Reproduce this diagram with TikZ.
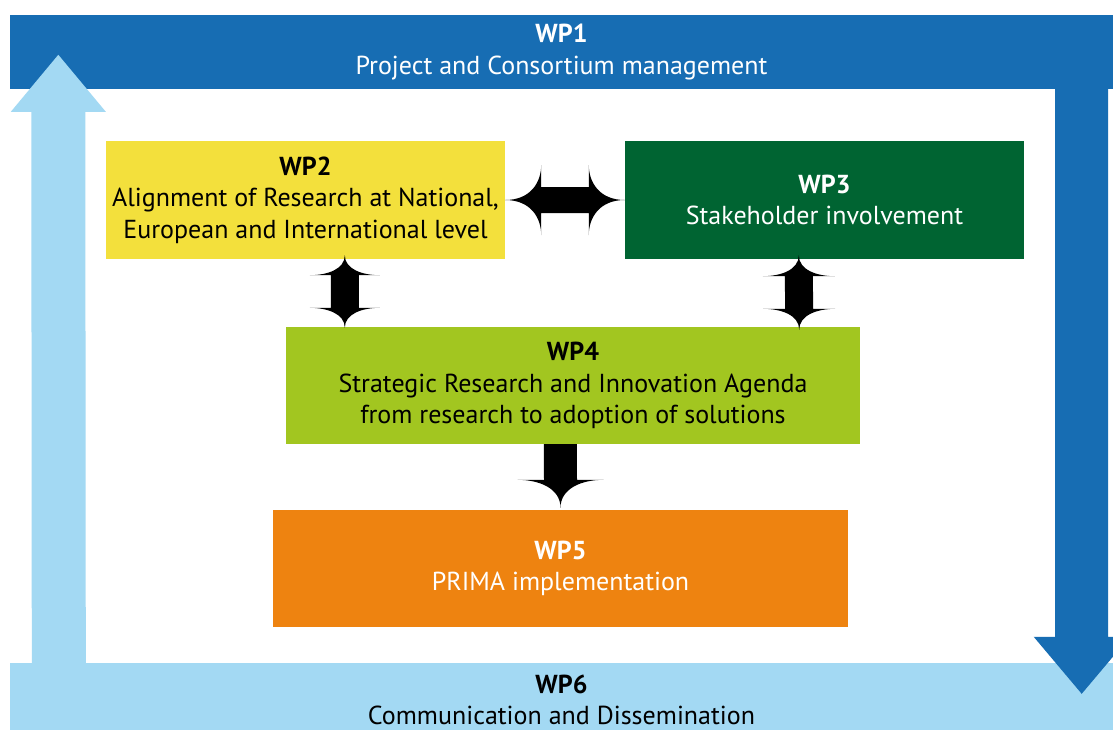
\documentclass[tikz,border=0pt]{standalone}
\usepackage{fontspec}
\setmainfont{PT Sans}
\usetikzlibrary{calc}
\definecolor{wpdark}{RGB}{23,109,179}
\definecolor{wplight}{RGB}{163,217,243}
\definecolor{wpyellow}{RGB}{243,224,60}
\definecolor{wpgreen}{RGB}{0,100,50}
\definecolor{wplime}{RGB}{162,198,32}
\definecolor{wporange}{RGB}{238,131,16}
\tikzset{
  wpbox/.style={rectangle, inner sep=0pt, align=center, font=\fontsize{26}{31.5}\selectfont},
  blockarrow/.style={fill=black},
}
% vertical double block arrow: #1 top tip, #2 bottom tip, #3 shaft half, #4 head half, #5 head length
\newcommand\wpvdarrow[5]{%
  \fill[blockarrow] (#1) .. controls ($(#1)+(0,0.7*#5)$) and ($(#1)+(-0.5*#4,#5)$) .. ($(#1)+(-#4,#5)$)
    -- ($(#1)+(-#3,#5)$) -- ($(#2)+(-#3,-#5)$) -- ($(#2)+(-#4,-#5)$)
    .. controls ($(#2)+(-0.5*#4,-#5)$) and ($(#2)+(0,-0.7*#5)$) .. (#2)
    .. controls ($(#2)+(0,-0.7*#5)$) and ($(#2)+(0.5*#4,-#5)$) .. ($(#2)+(#4,-#5)$)
    -- ($(#2)+(#3,-#5)$) -- ($(#1)+(#3,#5)$) -- ($(#1)+(#4,#5)$)
    .. controls ($(#1)+(0.5*#4,#5)$) and ($(#1)+(0,0.7*#5)$) .. cycle;}
% horizontal double block arrow: #1 left tip, #2 right tip
\newcommand\wphdarrow[5]{%
  \fill[blockarrow] (#1) .. controls ($(#1)+(0.7*#5,0)$) and ($(#1)+(#5,-0.5*#4)$) .. ($(#1)+(#5,-#4)$)
    -- ($(#1)+(#5,-#3)$) -- ($(#2)+(-#5,-#3)$) -- ($(#2)+(-#5,-#4)$)
    .. controls ($(#2)+(-#5,-0.5*#4)$) and ($(#2)+(-0.7*#5,0)$) .. (#2)
    .. controls ($(#2)+(-0.7*#5,0)$) and ($(#2)+(-#5,0.5*#4)$) .. ($(#2)+(-#5,#4)$)
    -- ($(#2)+(-#5,#3)$) -- ($(#1)+(#5,#3)$) -- ($(#1)+(#5,#4)$)
    .. controls ($(#1)+(#5,0.5*#4)$) and ($(#1)+(0.7*#5,0)$) .. cycle;}
% single downward block arrow: #1 top (flat), #2 tip
\newcommand\wpsdarrow[5]{%
  \fill[blockarrow] ($(#1)+(-#3,0)$) -- ($(#2)+(-#3,-#5)$) -- ($(#2)+(-#4,-#5)$)
    .. controls ($(#2)+(-0.5*#4,-#5)$) and ($(#2)+(0,-0.7*#5)$) .. (#2)
    .. controls ($(#2)+(0,-0.7*#5)$) and ($(#2)+(0.5*#4,-#5)$) .. ($(#2)+(#4,-#5)$)
    -- ($(#2)+(#3,-#5)$) -- ($(#1)+(#3,0)$) -- cycle;}
\begin{document}
\begin{tikzpicture}[x=1pt,y=-1pt]
\useasboundingbox (0,0) rectangle (1113,729);
\fill[white] (0,0) rectangle (1113,729);
\clip (0,0) rectangle (1113,729);

% bars
\node[wpbox, fill=wplight, text=black, minimum width=1103pt, minimum height=74pt] (wp6) at (561.5,700)
  {\textbf{WP6}\\Communication and Dissemination};
\node[wpbox, fill=wpdark, text=white, minimum width=1103pt, minimum height=74pt] (wp1) at (561.5,52)
  {\textbf{WP1}\\Project and Consortium management};

% big arrows
\coordinate (upb) at ($(wp6.north west)+(49,1)$);
\coordinate (upt) at ($(wp1.north west)+(48.5,40)$);
\fill[wplight] ($(upb)+(-27,0)$) -- ($(upt)+(-27,57)$) -- ($(upt)+(-47.5,57)$) -- (upt)
  -- ($(upt)+(47.5,57)$) -- ($(upt)+(27,57)$) -- ($(upb)+(27,0)$) -- cycle;
\coordinate (dnb) at ($(wp1.south east)+(-31.5,-1)$);
\coordinate (dnt) at ($(wp6.north east)+(-31.5,31)$);
\fill[wpdark] ($(dnb)+(-26.5,0)$) -- ($(dnt)+(-26.5,-57)$) -- ($(dnt)+(-48,-57)$) -- (dnt)
  -- ($(dnt)+(48,-57)$) -- ($(dnt)+(26.5,-57)$) -- ($(dnb)+(26.5,0)$) -- cycle;

% boxes
\node[wpbox, fill=wpyellow, text=black, minimum width=399pt, minimum height=118pt] (wp2) at (305.5,200)
  {\textbf{WP2}\\Alignment of Research at National,\\European and International level};
\node[wpbox, fill=wpgreen, text=white, minimum width=399pt, minimum height=118pt] (wp3) at (824.5,200)
  {\textbf{WP3}\\Stakeholder involvement};
\node[wpbox, fill=wplime, text=black, minimum width=574pt, minimum height=117pt] (wp4) at (573,385.5)
  {\textbf{WP4}\\Strategic Research and Innovation Agenda\\from research to adoption of solutions};
\node[wpbox, fill=wporange, text=white, minimum width=575pt, minimum height=117pt] (wp5) at (560.5,568.5)
  {\textbf{WP5}\\PRIMA implementation};

% connectors
\wphdarrow{wp2.east}{wp3.west}{13}{35}{36}
\coordinate (l1) at ($(wp2.south west)+(239,-4)$);
\coordinate (l2) at ($(wp4.north west)+(59,1)$);
\wpvdarrow{l1}{l2}{14}{35}{20}
\coordinate (r1) at ($(wp3.south west)+(174,-4)$);
\coordinate (r2) at ($(wp4.north east)+(-61,3)$);
\wpvdarrow{r1}{r2}{14}{36}{21}
\coordinate (d1) at ($(wp4.south west)+(274.5,0)$);
\coordinate (d2) at ($(wp5.north)+(0,-2)$);
\wpsdarrow{d1}{d2}{16.5}{43}{28}
\end{tikzpicture}
\end{document}
